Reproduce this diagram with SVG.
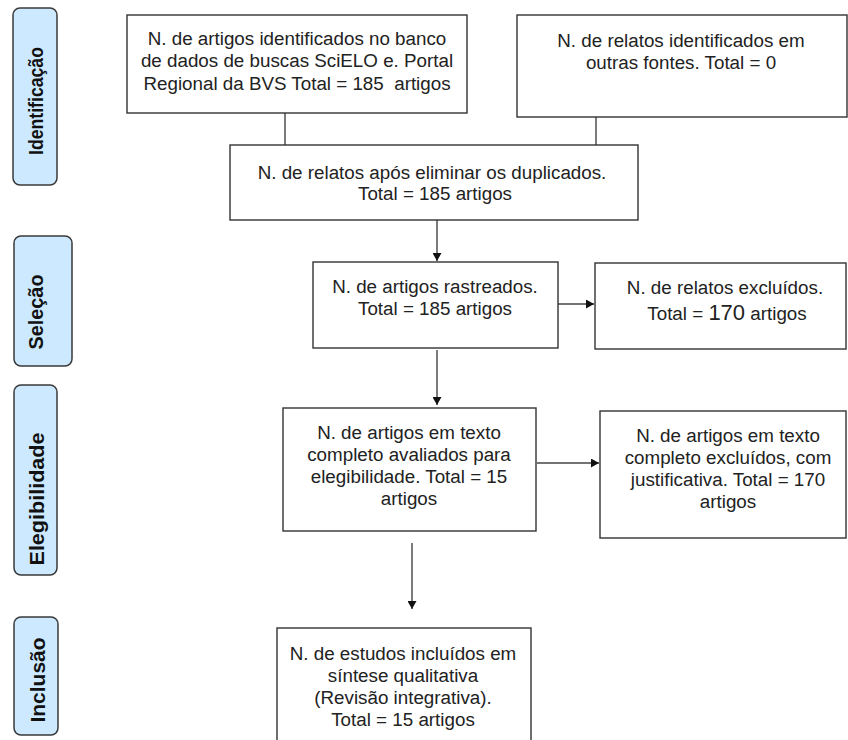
<svg xmlns="http://www.w3.org/2000/svg" width="848" height="740" viewBox="0 0 848 740">
<defs>
<style>
.stage{fill:#cce9ff;stroke:#3a3a3a;stroke-width:1.5}
.stxt{font-family:"Liberation Sans",Arial,sans-serif;font-weight:bold;font-size:20px;fill:#111;text-anchor:middle}
.box{fill:#fff;stroke:#333;stroke-width:1.4}
.t{font-family:"Liberation Sans",Arial,sans-serif;font-size:18.8px;fill:#222;text-anchor:middle}
.c{stroke:#444;stroke-width:1.4;fill:none}
</style>
<marker id="ah" markerWidth="9" markerHeight="9" refX="8" refY="4.5" orient="auto" markerUnits="userSpaceOnUse">
<path d="M0,0 L8,4.5 L0,9 z" fill="#111"/>
</marker>
</defs>
<rect width="848" height="740" fill="#fff"/>

<g id="stage-identificacao">
<rect class="stage" x="13" y="8" width="44" height="177" rx="7"/>
<text class="stxt" transform="translate(43,101) rotate(-90)" textLength="108" lengthAdjust="spacingAndGlyphs">Identificação</text>
</g>
<g id="stage-selecao">
<rect class="stage" x="14" y="236" width="58" height="130" rx="7"/>
<text class="stxt" transform="translate(43,312) rotate(-90)" textLength="75" lengthAdjust="spacingAndGlyphs">Seleção</text>
</g>
<g id="stage-elegibilidade">
<rect class="stage" x="14" y="385" width="43" height="190" rx="7"/>
<text class="stxt" transform="translate(44,499) rotate(-90)" textLength="133" lengthAdjust="spacingAndGlyphs">Elegibilidade</text>
</g>
<g id="stage-inclusao">
<rect class="stage" x="14" y="617" width="44" height="118" rx="7"/>
<text class="stxt" transform="translate(45,680) rotate(-90)" textLength="85" lengthAdjust="spacingAndGlyphs">Inclusão</text>
</g>

<g id="connectors">
<line class="c" x1="285" y1="113" x2="285" y2="145"/>
<line class="c" x1="596" y1="100" x2="596" y2="145"/>
<line class="c" x1="535" y1="180" x2="535" y2="192"/>
<line class="c" x1="437" y1="220" x2="437" y2="261" marker-end="url(#ah)"/>
<line class="c" x1="532" y1="304" x2="594" y2="304" marker-end="url(#ah)"/>
<line class="c" x1="437" y1="350" x2="437" y2="405" marker-end="url(#ah)"/>
<line class="c" x1="537" y1="463" x2="599" y2="463" marker-end="url(#ah)"/>
<line class="c" x1="412" y1="543" x2="412" y2="609" marker-end="url(#ah)"/>
</g>

<g id="n-identificados">
<rect class="box" x="127" y="15" width="340" height="98"/>
<text class="t" x="297" y="45">N. de artigos identificados no banco</text>
<text class="t" x="297" y="67">de dados de buscas SciELO e. Portal</text>
<text class="t" x="297" y="90" xml:space="preserve">Regional da BVS Total = 185  artigos</text>
</g>
<g id="n-outras-fontes">
<rect class="box" x="517" y="15" width="330" height="102"/>
<text class="t" x="681" y="47">N. de relatos identificados em</text>
<text class="t" x="681" y="69">outras fontes. Total = 0</text>
</g>
<g id="n-duplicados">
<rect class="box" x="230" y="145" width="408" height="75"/>
<text class="t" x="432" y="179">N. de relatos após eliminar os duplicados.</text>
<text class="t" x="435" y="200">Total = 185 artigos</text>
</g>
<g id="n-rastreados">
<rect class="box" x="313" y="262" width="245" height="86"/>
<text class="t" x="435" y="293">N. de artigos rastreados.</text>
<text class="t" x="435" y="315">Total = 185 artigos</text>
</g>
<g id="n-excluidos">
<rect class="box" x="595" y="263" width="251" height="86"/>
<text class="t" x="725" y="294">N. de relatos excluídos.</text>
<text class="t" x="727" y="320">Total = <tspan font-size="22">170</tspan> artigos</text>
</g>
<g id="n-elegibilidade">
<rect class="box" x="283" y="408" width="253" height="123"/>
<text class="t" x="409" y="439">N. de artigos em texto</text>
<text class="t" x="409" y="461">completo avaliados para</text>
<text class="t" x="409" y="483">elegibilidade. Total = 15</text>
<text class="t" x="409" y="505">artigos</text>
</g>
<g id="n-excluidos-texto">
<rect class="box" x="600" y="411" width="246" height="127"/>
<text class="t" x="728" y="442">N. de artigos em texto</text>
<text class="t" x="728" y="464">completo excluídos, com</text>
<text class="t" x="728" y="486">justificativa. Total = 170</text>
<text class="t" x="728" y="508">artigos</text>
</g>
<g id="n-incluidos">
<rect class="box" x="277" y="628" width="254" height="120"/>
<text class="t" x="403" y="660">N. de estudos incluídos em</text>
<text class="t" x="403" y="682">síntese qualitativa</text>
<text class="t" x="403" y="704">(Revisão integrativa).</text>
<text class="t" x="403" y="726">Total = 15 artigos</text>
</g>
</svg>
